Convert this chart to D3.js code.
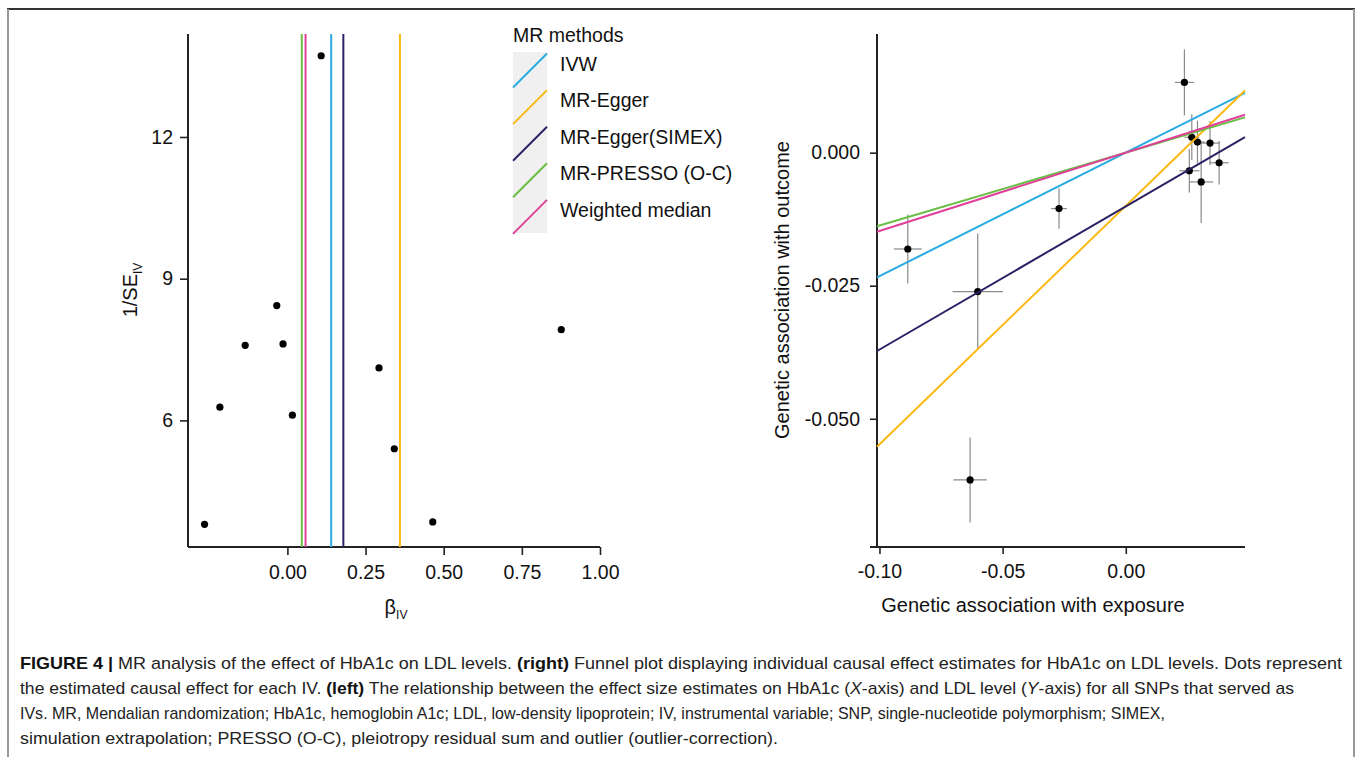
<!DOCTYPE html>
<html>
<head>
<meta charset="utf-8">
<script src="https://cdn.jsdelivr.net/npm/d3@7"></script>
<style>
  body { margin: 0; background: #fff; }
  svg { display: block; font-family: "Liberation Sans", Arial, Helvetica, sans-serif; }
  .tick text { font-size: 19.5px; fill: #111; }
</style>
</head>
<body>
<div id="main"></div>
<script>
// MR methods, shared by both panels
var methods = ["IVW", "MR-Egger", "MR-Egger(SIMEX)", "MR-PRESSO (O-C)", "Weighted median"];
var methodColors = ["#29abe2", "#fdb913", "#2a2264", "#6abd45", "#e0409a"];
var funnelEstimate = [0.140, 0.360, 0.179, 0.046, 0.058];
var scatterSlope = [0.232, 0.448, 0.269, 0.137, 0.147];
var scatterIntercept = [0, -0.0100, -0.0101, 0, 0];

// left panel: funnel plot
var betaIV = [-0.265, -0.216, -0.135, -0.034, -0.014, 0.016, 0.293, 0.342, 0.465, 0.876, 0.108];
var invSE = [3.80, 6.28, 7.59, 8.43, 7.62, 6.11, 7.11, 5.40, 3.85, 7.92, 13.72];
var funnelXTicks = [0, 0.25, 0.5, 0.75, 1];
var funnelYTicks = [6, 9, 12];

// right panel: scatter of SNP associations
var bExp = [-0.0885, -0.0601, -0.0271, -0.0632, 0.0238, 0.0268, 0.0291, 0.0342, 0.0379, 0.0258, 0.0306];
var bOut = [-0.0181, -0.0261, -0.0105, -0.0615, 0.0132, 0.0029, 0.0020, 0.0018, -0.0019, -0.0034, -0.0055];
var seExp = [0.0057, 0.0102, 0.0032, 0.0068, 0.0039, 0.0030, 0.0030, 0.0039, 0.0039, 0.0041, 0.0049];
var seOut = [0.0065, 0.0109, 0.0038, 0.0080, 0.0062, 0.0043, 0.0040, 0.0041, 0.0041, 0.0041, 0.0077];
var scatterXTicks = [-0.10, -0.05, 0.00];
var scatterYTicks = [0.000, -0.025, -0.050];

var captionLines = [
  [["b", "FIGURE 4 | "], ["", "MR analysis of the effect of HbA1c on LDL levels. "], ["b", "(right)"], ["", " Funnel plot displaying individual causal effect estimates for HbA1c on LDL levels. Dots represent"]],
  [["", "the estimated causal effect for each IV. "], ["b", "(left)"], ["", " The relationship between the effect size estimates on HbA1c ("], ["i", "X"], ["", "-axis) and LDL level ("], ["i", "Y"], ["", "-axis) for all SNPs that served as"]],
  [["", "IVs. MR, Mendalian randomization; HbA1c, hemoglobin A1c; LDL, low-density lipoprotein; IV, instrumental variable; SNP, single-nucleotide polymorphism; SIMEX,"]],
  [["", "simulation extrapolation; PRESSO (O-C), pleiotropy residual sum and outlier (outlier-correction)."]]
];
var captionWidths = [1322, 1274, 1145, 758];

var W = 1358, H = 757;
var svg = d3.select("#main").append("svg")
    .attr("width", W)
    .attr("height", H);

// figure frame
svg.append("line").attr("x1", 7).attr("x2", 1355).attr("y1", 9).attr("y2", 9)
    .attr("stroke", "#333").attr("stroke-width", 2);
svg.append("line").attr("x1", 8).attr("x2", 8).attr("y1", 9).attr("y2", H)
    .attr("stroke", "#999").attr("stroke-width", 2);
svg.append("line").attr("x1", 1354).attr("x2", 1354).attr("y1", 9).attr("y2", H)
    .attr("stroke", "#999").attr("stroke-width", 2);

function styleAxis(g) {
  g.select(".domain").remove();
  g.selectAll(".tick line").attr("stroke", "#222").attr("stroke-width", 1.6);
  g.selectAll(".tick text").text(function() { return this.textContent.replace("−", "-"); });
}

// ---------- left: funnel plot ----------
var fx = d3.scaleLinear().domain([-0.318, 1.0]).range([188, 600]);
var fy = d3.scaleLinear().domain([3.32, 14.18]).range([547, 34]);

var left = svg.append("g");

left.append("g")
    .attr("transform", "translate(0,547)")
    .call(d3.axisBottom(fx).tickValues(funnelXTicks).tickFormat(d3.format(".2f")).tickSize(8).tickPadding(10))
    .call(styleAxis);
left.append("g")
    .attr("transform", "translate(188,0)")
    .call(d3.axisLeft(fy).tickValues(funnelYTicks).tickFormat(d3.format("d")).tickSize(8).tickPadding(7))
    .call(styleAxis);

left.append("line").attr("x1", 188).attr("x2", 188).attr("y1", 34).attr("y2", 547)
    .attr("stroke", "#222").attr("stroke-width", 2);
left.append("line").attr("x1", 188).attr("x2", 600).attr("y1", 547).attr("y2", 547)
    .attr("stroke", "#222").attr("stroke-width", 2);

left.selectAll("circle")
    .data(betaIV)
    .enter().append("circle")
    .attr("cx", function(d) { return fx(d); })
    .attr("cy", function(d, i) { return fy(invSE[i]); })
    .attr("r", 3.6)
    .attr("fill", "#000");

left.selectAll(".vline")
    .data(methods)
    .enter().append("line")
    .attr("class", "vline")
    .attr("x1", function(d, i) { return fx(funnelEstimate[i]); })
    .attr("x2", function(d, i) { return fx(funnelEstimate[i]); })
    .attr("y1", fy.range()[1])
    .attr("y2", fy.range()[0])
    .attr("stroke", function(d, i) { return methodColors[i]; })
    .attr("stroke-width", 2);

var bl = left.append("text").attr("x", 396).attr("y", 614).attr("text-anchor", "middle")
    .attr("font-size", 20).attr("fill", "#111");
bl.append("tspan").text("β");
bl.append("tspan").attr("font-size", 12).attr("dy", 5).text("IV");

var yl = left.append("text").attr("transform", "translate(137,290)rotate(-90)")
    .attr("text-anchor", "middle").attr("font-size", 20).attr("fill", "#111");
yl.append("tspan").text("1/SE");
yl.append("tspan").attr("font-size", 12).attr("dy", 5).text("IV");

// ---------- legend ----------
var legend = svg.append("g");
legend.append("text").attr("x", 513).attr("y", 42).attr("font-size", 19.5).attr("fill", "#111").text("MR methods");
legend.append("rect").attr("x", 513).attr("y", 52).attr("width", 34).attr("height", 181).attr("fill", "#f0f0f0");
var rowH = 36.6;
legend.selectAll(".key")
    .data(methods)
    .enter().append("line")
    .attr("class", "key")
    .attr("x1", 513).attr("x2", 547)
    .attr("y1", function(d, i) { return 87.5 + i * rowH; })
    .attr("y2", function(d, i) { return 53.5 + i * rowH; })
    .attr("stroke", function(d, i) { return methodColors[i]; })
    .attr("stroke-width", 2);
legend.selectAll(".lab")
    .data(methods)
    .enter().append("text")
    .attr("class", "lab")
    .attr("x", 560)
    .attr("y", function(d, i) { return 70.5 + i * rowH; })
    .attr("font-size", 19.5)
    .attr("fill", "#111")
    .text(function(d) { return d; });

// ---------- right: scatter ----------
var sx = d3.scaleLinear().domain([-0.101, 0.0484]).range([877, 1245]);
var sy = d3.scaleLinear().domain([-0.0741, 0.0223]).range([547, 34]);

var right = svg.append("g");

right.append("g")
    .attr("transform", "translate(0,547)")
    .call(d3.axisBottom(sx).tickValues(scatterXTicks).tickFormat(d3.format(".2f")).tickSize(7).tickPadding(10))
    .call(styleAxis);
right.append("g")
    .attr("transform", "translate(877,0)")
    .call(d3.axisLeft(sy).tickValues(scatterYTicks).tickFormat(d3.format(".3f")).tickSize(7).tickPadding(10))
    .call(styleAxis);

right.append("line").attr("x1", 877).attr("x2", 877).attr("y1", 34).attr("y2", 547)
    .attr("stroke", "#222").attr("stroke-width", 2);
right.append("line").attr("x1", 870).attr("x2", 1245).attr("y1", 547).attr("y2", 547)
    .attr("stroke", "#222").attr("stroke-width", 2);

// error bars
right.selectAll(".ebx")
    .data(bExp)
    .enter().append("line")
    .attr("class", "ebx")
    .attr("x1", function(d, i) { return sx(d - seExp[i]); })
    .attr("x2", function(d, i) { return sx(d + seExp[i]); })
    .attr("y1", function(d, i) { return sy(bOut[i]); })
    .attr("y2", function(d, i) { return sy(bOut[i]); })
    .attr("stroke", "#8a8a8a").attr("stroke-width", 1.2);
right.selectAll(".eby")
    .data(bExp)
    .enter().append("line")
    .attr("class", "eby")
    .attr("x1", function(d) { return sx(d); })
    .attr("x2", function(d) { return sx(d); })
    .attr("y1", function(d, i) { return sy(bOut[i] - seOut[i]); })
    .attr("y2", function(d, i) { return sy(bOut[i] + seOut[i]); })
    .attr("stroke", "#8a8a8a").attr("stroke-width", 1.2);

right.selectAll("circle")
    .data(bExp)
    .enter().append("circle")
    .attr("cx", function(d) { return sx(d); })
    .attr("cy", function(d, i) { return sy(bOut[i]); })
    .attr("r", 3.6)
    .attr("fill", "#000");

var xEnds = sx.domain();
right.selectAll(".fit")
    .data(methods)
    .enter().append("line")
    .attr("class", "fit")
    .attr("x1", sx(xEnds[0]))
    .attr("x2", sx(xEnds[1]))
    .attr("y1", function(d, i) { return sy(scatterIntercept[i] + scatterSlope[i] * xEnds[0]); })
    .attr("y2", function(d, i) { return sy(scatterIntercept[i] + scatterSlope[i] * xEnds[1]); })
    .attr("stroke", function(d, i) { return methodColors[i]; })
    .attr("stroke-width", 2);

right.append("text").attr("x", 1033).attr("y", 612).attr("text-anchor", "middle")
    .attr("font-size", 20).attr("fill", "#111").text("Genetic association with exposure");
right.append("text").attr("transform", "translate(789,290)rotate(-90)").attr("text-anchor", "middle")
    .attr("font-size", 20).attr("fill", "#111").text("Genetic association with outcome");

// ---------- caption ----------
var cap = svg.append("g");
var capY = [669, 694, 719, 744];
captionLines.forEach(function(parts, li) {
  var t = cap.append("text")
      .attr("x", 20)
      .attr("y", capY[li])
      .attr("font-size", 17)
      .attr("fill", "#222")
      .attr("textLength", captionWidths[li])
      .attr("lengthAdjust", "spacingAndGlyphs");
  parts.forEach(function(p) {
    var s = t.append("tspan").text(p[1]);
    if (p[0] == "b") s.attr("font-weight", "bold").attr("fill", "#111");
    if (p[0] == "i") s.attr("font-style", "italic");
  });
});
</script>
</body>
</html>
